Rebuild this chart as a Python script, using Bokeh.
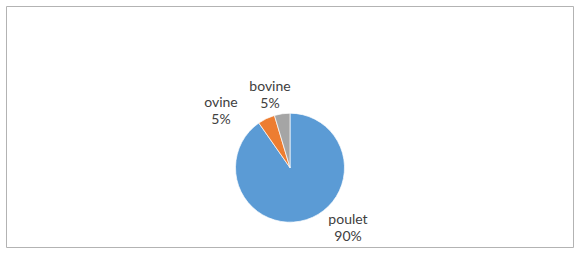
import math
from bokeh.plotting import figure
from bokeh.models import Range1d, ColumnDataSource
from bokeh.core.properties import value
from bokeh.embed import file_html
from bokeh.resources import INLINE

# data
categories = ["poulet", "ovine", "bovine"]
values = [90.3, 5.1, 4.6]
colors = ["#5B9BD5", "#ED7D31", "#A5A5A5"]

# layout (pixel positions in the 578x253 page)
W, H = 578, 253
center = (289.5, 167.2)
radius = 54.5
label_pos = [(347.5, 218.0), (220.5, 101.0), (269.5, 85.0)]
line_gap = 16.8

total = sum(values)
starts, ends = [], []
a = math.pi / 2
for v in values:
    starts.append(a)
    a -= v / total * 2 * math.pi
    ends.append(a)

p = figure(width=W, height=H, output_backend="svg", toolbar_location=None,
           x_range=Range1d(6, 573), y_range=Range1d(H - 247, H - 6),
           min_border_left=6, min_border_right=5, min_border_top=6, min_border_bottom=6)
p.axis.visible = False
p.grid.visible = False
p.outline_line_color = "#B3B3B3"
p.outline_line_width = 1
p.background_fill_color = "white"
p.border_fill_color = "white"

src = ColumnDataSource(dict(cat=categories, val=values, color=colors,
                            start=starts, end=ends))
p.wedge(x=center[0], y=H - center[1], radius=radius, start_angle="start", end_angle="end",
        direction="clock", fill_color="color", line_color="white", line_width=0.7, source=src)

pct = [f"{round(v / total * 100)}%" for v in values]
lx = [q[0] for q in label_pos]
ly1 = [H - q[1] for q in label_pos]
ly2 = [H - q[1] - line_gap for q in label_pos]
p.text(x=lx, y=ly1, text=categories, text_align="center", text_baseline="middle",
       text_font=value("Lato"), text_font_size="14px", text_color="#404040")
p.text(x=lx, y=ly2, text=pct, text_align="center", text_baseline="middle",
       text_font=value("Lato"), text_font_size="14px", text_color="#404040")

open("out.html", "w").write(file_html(p, INLINE))
